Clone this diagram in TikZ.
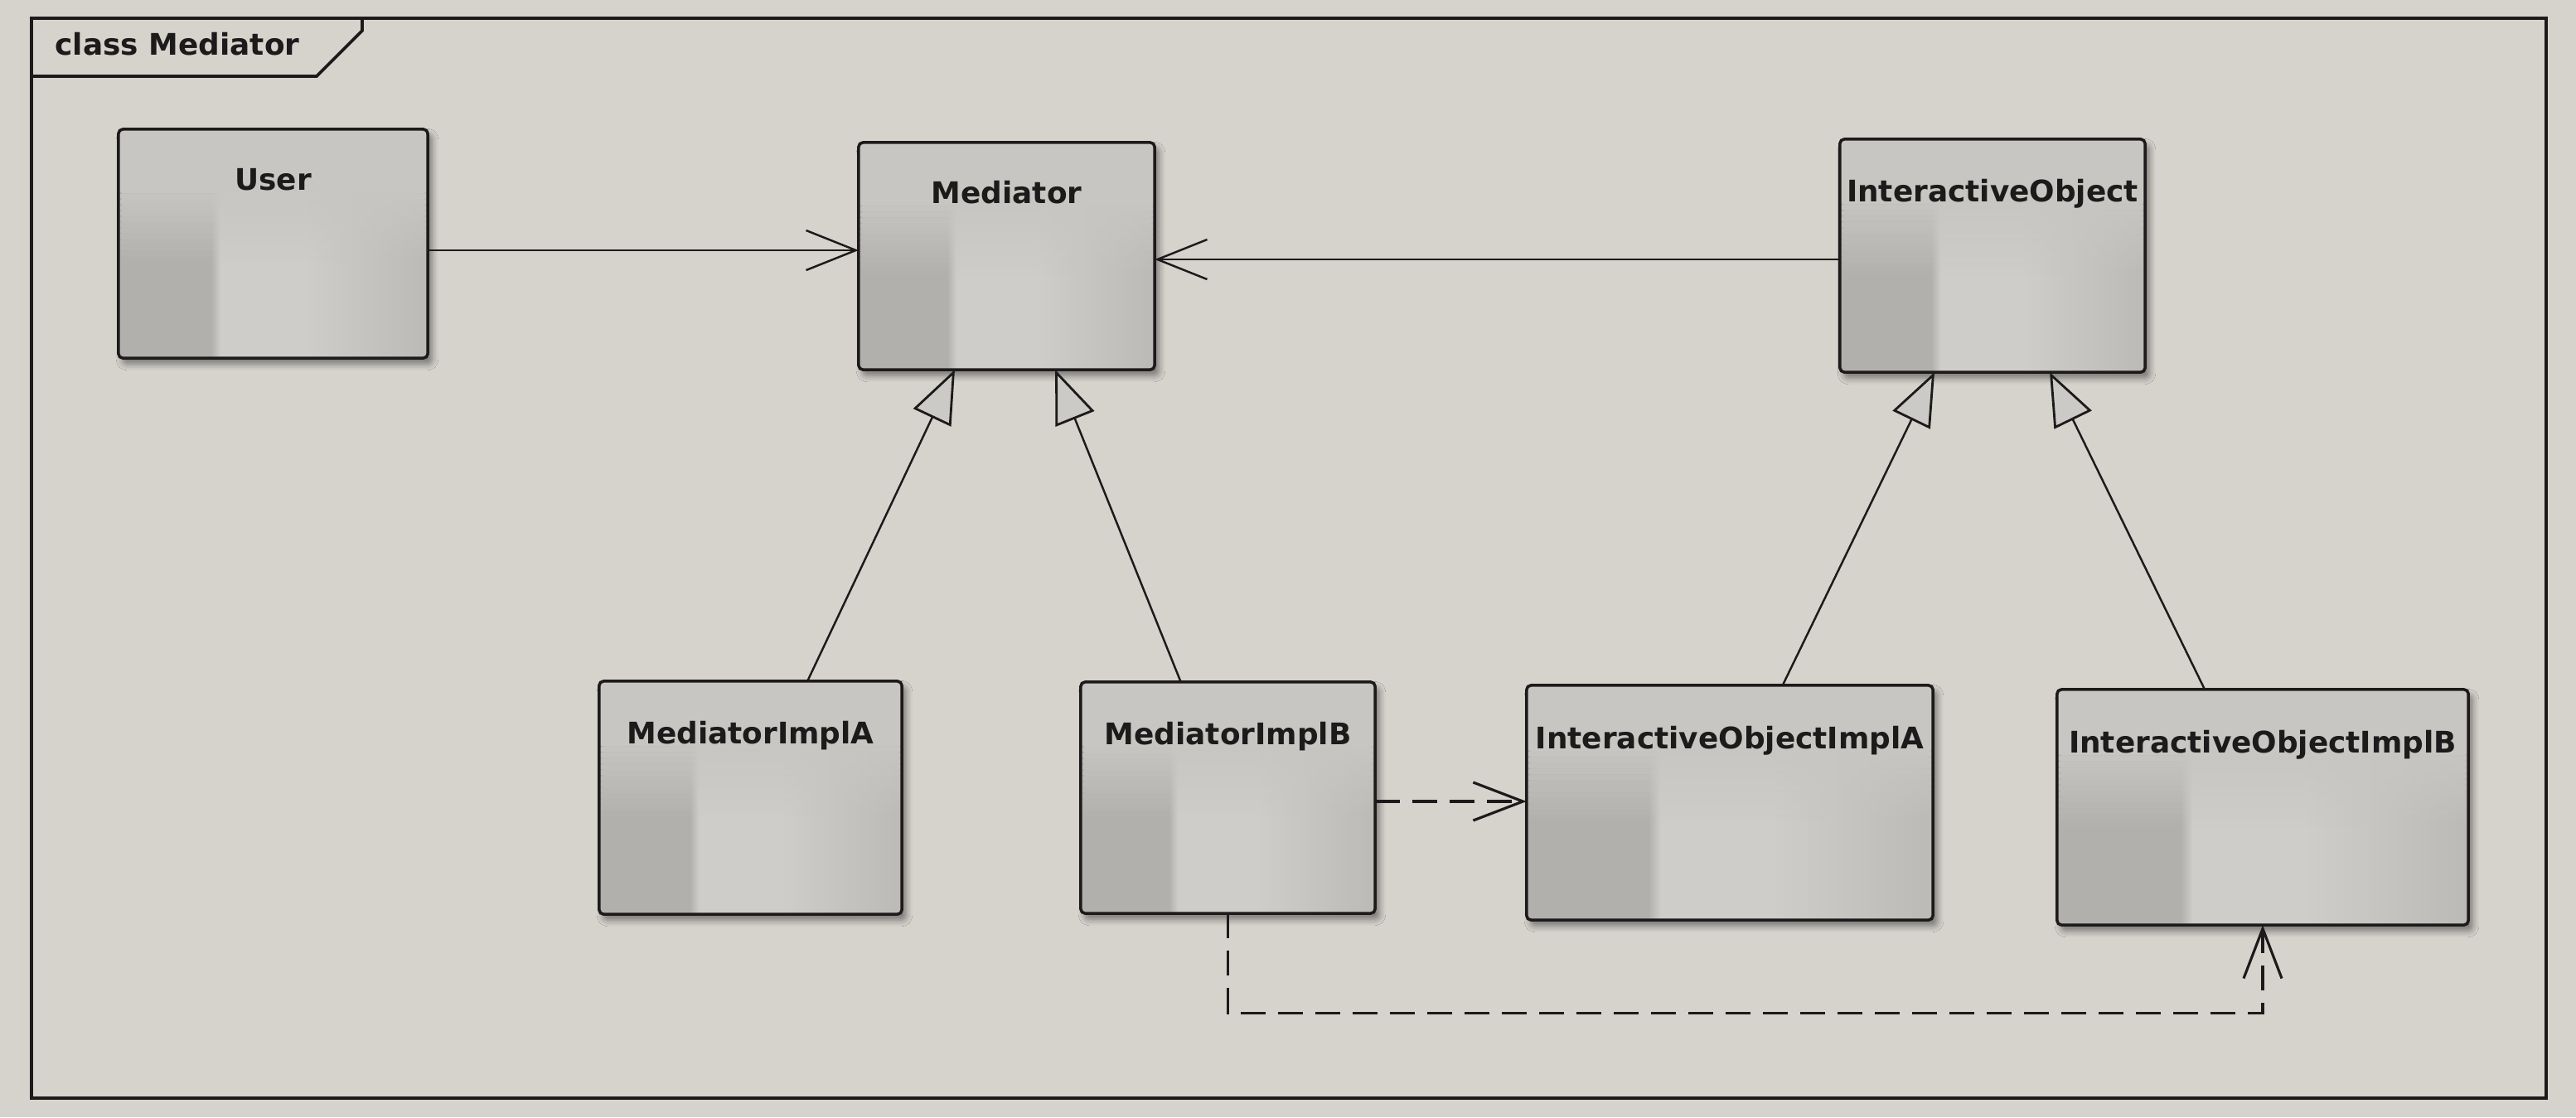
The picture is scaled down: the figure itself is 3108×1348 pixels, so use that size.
\documentclass[tikz,border=0pt]{standalone}
\usepackage{fontspec}
\setmainfont{DejaVu Sans}
\usetikzlibrary{arrows.meta,calc,shadows.blur}
\definecolor{bgc}{RGB}{214,211,205}
\definecolor{cdark}{RGB}{178,176,172}
\definecolor{clight}{RGB}{207,205,201}
\definecolor{cmid}{RGB}{188,186,182}
\definecolor{ctop}{RGB}{200,198,194}
\definecolor{ctri}{RGB}{204,202,198}
\definecolor{ink}{RGB}{28,26,26}
\pgfdeclarehorizontalshading{clsshade}{100bp}{color(0bp)=(cdark); color(25bp)=(cdark); color(40bp)=(cdark); color(41.5bp)=(clight); color(55bp)=(clight); color(75bp)=(cmid); color(100bp)=(cmid)}
\tikzset{
  cls/.style={rectangle, draw=ink, line width=1pt, rounded corners=1.5pt,
    shade, shading=clsshade, outer sep=0pt, inner sep=0pt,
    blur shadow={shadow xshift=0.05cm, shadow yshift=-0.07cm, shadow blur steps=6, shadow opacity=45},
    path picture={
      \fill[ctop] (path picture bounding box.north west) rectangle ($(path picture bounding box.north east)!0.28!(path picture bounding box.south east)$);
      \foreach \i in {0,...,11}{
        \pgfmathsetmacro\ta{0.28+\i*0.025}
        \pgfmathsetmacro\tb{0.28+(\i+1)*0.025}
        \pgfmathsetmacro\op{1-(\i+1)/13}
        \fill[ctop, fill opacity=\op] ($(path picture bounding box.north west)!\ta!(path picture bounding box.south west)$) rectangle ($(path picture bounding box.north east)!\tb!(path picture bounding box.south east)$);
      }
    }},
  lbl/.style={font=\bfseries\fontsize{10.2}{12}\selectfont, text=ink, inner sep=0pt},
  frame/.style={draw=ink, line width=1.1pt},
  assoc/.style={draw=ink, line width=0.7pt, -{Straight Barb[length=0.6cm,width=0.48cm,line width=0.7pt]}},
  gen/.style={draw=ink, line width=0.7pt, -{Triangle[open,length=0.64cm,width=0.5cm,fill=ctri,line width=0.8pt]}},
  dep/.style={draw=ink, line width=0.9pt, dash pattern=on 0.3cm off 0.15cm, -{Straight Barb[length=0.6cm,width=0.46cm,line width=0.9pt]}}
}
\begin{document}
\begin{tikzpicture}[x=0.01cm,y=-0.01cm]
\fill[bgc] (0,0) rectangle (3108,1348);
\useasboundingbox (0,0) rectangle (3108,1348);
% frame
\draw[frame] (38,22) rectangle (3072,1325);
\draw[frame] (38,92) -- (382,92) -- (437,37) -- (437,22);
\node[lbl, anchor=base west] (title) at (66,66) {class Mediator};
% classes
\node[cls, minimum width=3.73cm, minimum height=2.76cm] (user) at (329.5,294) {};
\node[cls, minimum width=3.57cm, minimum height=2.74cm] (med) at (1214.5,309) {};
\node[cls, minimum width=3.68cm, minimum height=2.81cm] (io) at (2404,308.5) {};
\node[cls, minimum width=3.65cm, minimum height=2.81cm] (mia) at (905.5,962.5) {};
\node[cls, minimum width=3.55cm, minimum height=2.79cm] (mib) at (1481.5,962.5) {};
\node[cls, minimum width=4.90cm, minimum height=2.83cm] (ioa) at (2087,968.5) {};
\node[cls, minimum width=4.96cm, minimum height=2.84cm] (iob) at (2730,974) {};
% labels
\node[lbl, anchor=base] (userT) at ($(user.north)+(0,74)$) {User};
\node[lbl, anchor=base] (medT) at ($(med.north)+(0,74)$) {Mediator};
\node[lbl, anchor=base] (ioT) at ($(io.north)+(0,76)$) {InteractiveObject};
\node[lbl, anchor=base] (miaT) at ($(mia.north)+(0,76)$) {MediatorImplA};
\node[lbl, anchor=base] (mibT) at ($(mib.north)+(0,76)$) {MediatorImplB};
\node[lbl, anchor=base] (ioaT) at ($(ioa.north)+(0,77)$) {InteractiveObjectImplA};
\node[lbl, anchor=base] (iobT) at ($(iob.north)+(0,77)$) {InteractiveObjectImplB};
% connectors
\coordinate (hA) at (0,302);
\coordinate (hB) at (0,313);
\coordinate (hC) at (0,967);
\draw[assoc] (user.east |- hA) -- (med.west |- hA);
\draw[assoc] (io.west |- hB) -- (med.east |- hB);
\draw[gen] ($(mia.north west)!0.688!(mia.north east)$) -- ($(med.south west)!0.325!(med.south east)$);
\draw[gen] ($(mib.north west)!0.34!(mib.north east)$) -- ($(med.south west)!0.664!(med.south east)$);
\draw[gen] ($(ioa.north west)!0.63!(ioa.north east)$) -- ($(io.south west)!0.31!(io.south east)$);
\draw[gen] ($(iob.north west)!0.359!(iob.north east)$) -- ($(io.south west)!0.6875!(io.south east)$);
\draw[dep] (mib.east |- hC) -- (ioa.west |- hC);
\draw[dep] (mib.south) -- ++(0,120) -| (iob.south);
\end{tikzpicture}
\end{document}
